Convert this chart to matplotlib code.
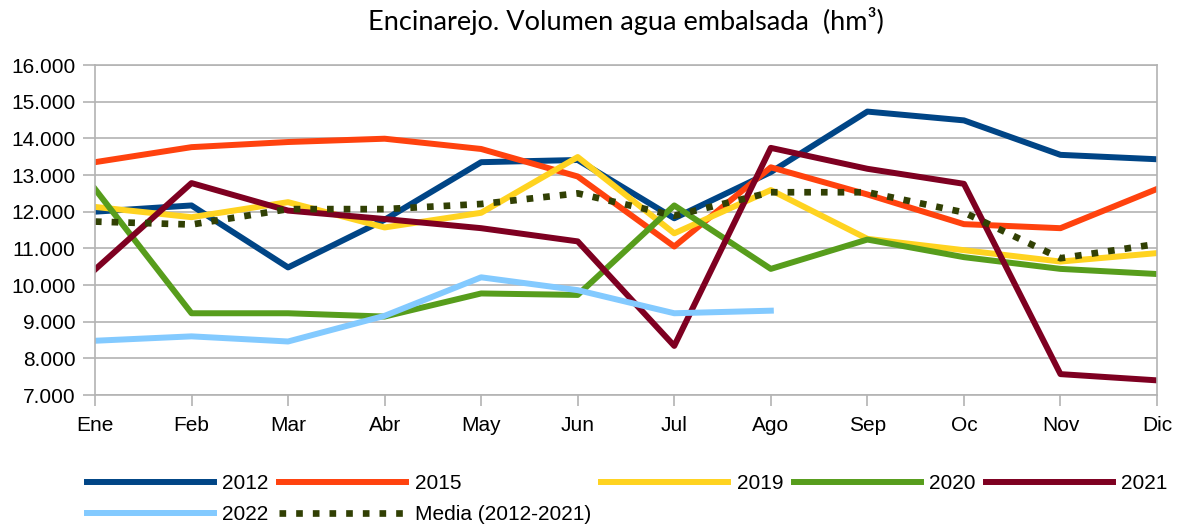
import numpy as np
import matplotlib
matplotlib.use("Agg")
import matplotlib.pyplot as plt
from matplotlib.ticker import FuncFormatter

# Monthly volume, Encinarejo reservoir
meses = ["Ene", "Feb", "Mar", "Abr", "May", "Jun", "Jul", "Ago", "Sep", "Oc", "Nov", "Dic"]

v2012 = [12.00, 12.17, 10.48, 11.78, 13.35, 13.41, 11.82, 13.08, 14.73, 14.49, 13.55, 13.43]
v2015 = [13.35, 13.76, 13.90, 13.99, 13.71, 12.96, 11.05, 13.21, 12.47, 11.66, 11.55, 12.62]
v2019 = [12.13, 11.85, 12.26, 11.57, 11.97, 13.49, 11.41, 12.59, 11.26, 10.95, 10.64, 10.87]
v2020 = [12.62, 9.23, 9.23, 9.14, 9.77, 9.73, 12.17, 10.44, 11.24, 10.76, 10.44, 10.30]
v2021 = [10.42, 12.78, 12.03, 11.80, 11.55, 11.19, 8.34, 13.74, 13.17, 12.76, 7.57, 7.40]
v2022 = [8.48, 8.60, 8.46, 9.16, 10.21, 9.86, 9.23, 9.30]
media = [11.73, 11.65, 12.07, 12.07, 12.21, 12.50, 11.89, 12.53, 12.53, 11.98, 10.73, 11.12]

plt.rcParams['font.family'] = ['Liberation Sans', 'DejaVu Sans']

fig = plt.figure(figsize=(11.81, 5.26), dpi=100)
ax = fig.add_axes([0.0804, 0.249, 0.8993, 0.6274])

x = np.arange(len(meses))
lw = 4.3
l12, = ax.plot(x, v2012, color="#004586", lw=lw, label="2012")
l15, = ax.plot(x, v2015, color="#ff420e", lw=lw, label="2015")
l19, = ax.plot(x, v2019, color="#ffd320", lw=lw, label="2019")
l20, = ax.plot(x, v2020, color="#579d1c", lw=lw, label="2020")
l21, = ax.plot(x, v2021, color="#7e0021", lw=lw, label="2021")
l22, = ax.plot(np.arange(len(v2022)), v2022, color="#83caff", lw=lw, label="2022")
lm, = ax.plot(x, media, color="#314004", lw=4.8, linestyle=(0, (1, 1.5)),
              dash_capstyle="butt", label="Media (2012-2021)")

ax.set_xlim(0, 11)
ax.set_ylim(7, 16)
ax.set_xticks(x)
ax.set_xticklabels(meses)
ax.set_yticks(np.arange(7, 17, 1))
ax.yaxis.set_major_formatter(FuncFormatter(lambda v, p: f"{v:.3f}"))
ax.grid(axis="y", color="#b3b3b3", lw=1.2)
ax.set_axisbelow(True)
for s in ax.spines.values():
    s.set_color("#b3b3b3")
    s.set_linewidth(1.2)
ax.tick_params(axis="both", colors="#b3b3b3", labelcolor="black", labelsize=15, width=1.2)
ax.tick_params(axis="y", length=9, pad=5)
ax.tick_params(axis="x", length=8, pad=7)

ax.set_title("Encinarejo. Volumen agua embalsada  (hm³)", fontsize=19.5,
             family=["Lato", "DejaVu Sans"], pad=25)

# column order so rows read 2012..2021 / 2022, Media
handles = [l12, l22, l15, lm, l19, l20, l21]
fig.legend(handles=handles, labels=[h.get_label() for h in handles],
           ncol=5, loc="upper left", bbox_to_anchor=(0.0737, 0.098),
           frameon=False, fontsize=15, handlelength=6.1, handletextpad=0.4,
           columnspacing=0.5, labelspacing=0.55, borderpad=0, borderaxespad=0)

fig.savefig("out.png", dpi=100)
